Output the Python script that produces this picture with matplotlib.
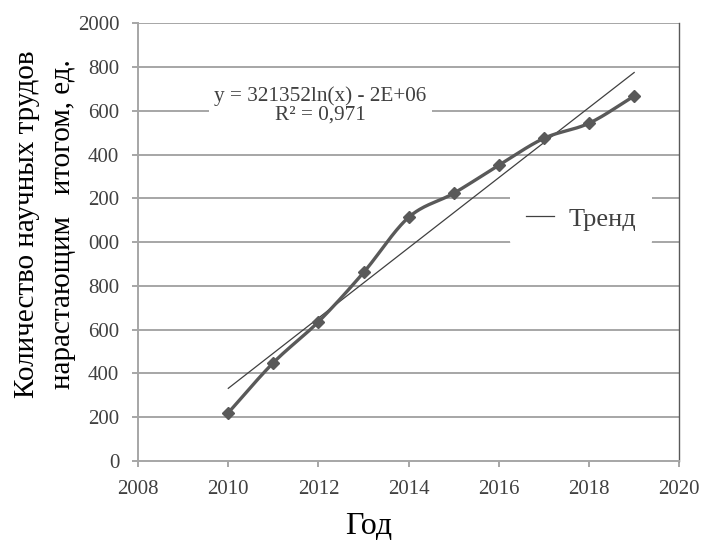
import numpy as np
import matplotlib
matplotlib.use("Agg")
import matplotlib.pyplot as plt

# data
years = [2010, 2011, 2012, 2013, 2014, 2015, 2016, 2017, 2018, 2019]
works = [220, 449, 636, 861, 1113, 1223, 1351, 1474, 1543, 1667]

y_ticks = [0, 200, 400, 600, 800, 1000, 1200, 1400, 1600, 1800, 2000]
y_tick_labels = ['0', '200', '400', '600', '800', '000', '200', '400', '600', '800', '2000']
x_ticks = [2008, 2010, 2012, 2014, 2016, 2018, 2020]

eq_text = 'y = 321352ln(x) - 2E+06\nR² = 0,971'
legend_label = 'Тренд'
ylabel = 'Количество научных трудов\nнарастающим   итогом, ед.'
xlabel = 'Год'

plt.rcParams['font.family'] = ['Liberation Serif', 'DejaVu Serif']
txt = '#404040'


def smooth(x, y, n=30):
    # Catmull-Rom curve through the points, like Excel's smoothed line
    x = np.asarray(x, float)
    y = np.asarray(y, float)
    px = np.concatenate([[2 * x[0] - x[1]], x, [2 * x[-1] - x[-2]]])
    py = np.concatenate([[2 * y[0] - y[1]], y, [2 * y[-1] - y[-2]]])
    xs, ys = [], []
    t = np.linspace(0, 1, n)
    for i in range(1, len(px) - 2):
        for p, out in ((px, xs), (py, ys)):
            p0, p1, p2, p3 = p[i - 1], p[i], p[i + 1], p[i + 2]
            out.extend(0.5 * (2 * p1 + (-p0 + p2) * t
                              + (2 * p0 - 5 * p1 + 4 * p2 - p3) * t ** 2
                              + (-p0 + 3 * p1 - 3 * p2 + p3) * t ** 3))
    return xs, ys


fig = plt.figure(figsize=(7.01, 5.52), dpi=100)
ax = fig.add_axes([0.197, 0.165, 0.772, 0.793])

for yt in y_ticks[1:]:
    ax.axhline(yt, color='#a6a6a6', lw=1.4, zorder=0)

# log trend
k, b = np.polyfit(np.log(years), works, 1)
tx = np.linspace(years[0], years[-1], 50)
ax.plot(tx, k * np.log(tx) + b, color='#404040', lw=0.9, label=legend_label, zorder=2)

sx, sy = smooth(years, works)
ax.plot(sx, sy, color='#595959', lw=2.4, zorder=3)
ax.plot(years, works, ls='none', marker='D', ms=6.5, color='#595959', zorder=4)

ax.set_xlim(2008, 2020)
ax.set_ylim(0, 2000)
ax.set_xticks(x_ticks)
ax.set_yticks(y_ticks)
ax.set_yticklabels(y_tick_labels)
ax.tick_params(colors='#a6a6a6', labelcolor=txt, labelsize=15, width=1.4, length=4.5)
ax.tick_params(axis='x', pad=9)
ax.tick_params(axis='y', pad=9)
for s in ['left', 'bottom']:
    ax.spines[s].set_color('#a6a6a6')
    ax.spines[s].set_linewidth(1.4)
ax.spines['top'].set_visible(False)
ax.spines['right'].set_color('#595959')
ax.spines['right'].set_linewidth(1.0)

ax.text(2012.04, 1625, eq_text, ha='center', va='center', fontsize=15.3, color=txt,
        linespacing=0.95, bbox=dict(facecolor='white', edgecolor='none', pad=4), zorder=5)

leg = ax.legend(loc='center', bbox_to_anchor=(0.819, 0.553), frameon=True, fontsize=19,
                handlelength=1.05, handletextpad=0.55, borderpad=0.6, borderaxespad=0)
leg.get_frame().set_edgecolor('none')
leg.get_frame().set_alpha(1)
for t in leg.get_texts():
    t.set_color(txt)

fig.text(45 / 701, 1 - 224 / 552, ylabel, rotation=90, ha='center', va='center',
         fontsize=21, color='black', linespacing=1.5)
fig.text(369 / 701, 1 - 527 / 552, xlabel, ha='center', va='center',
         fontsize=23, color='black')

fig.savefig('out.png', dpi=100)
